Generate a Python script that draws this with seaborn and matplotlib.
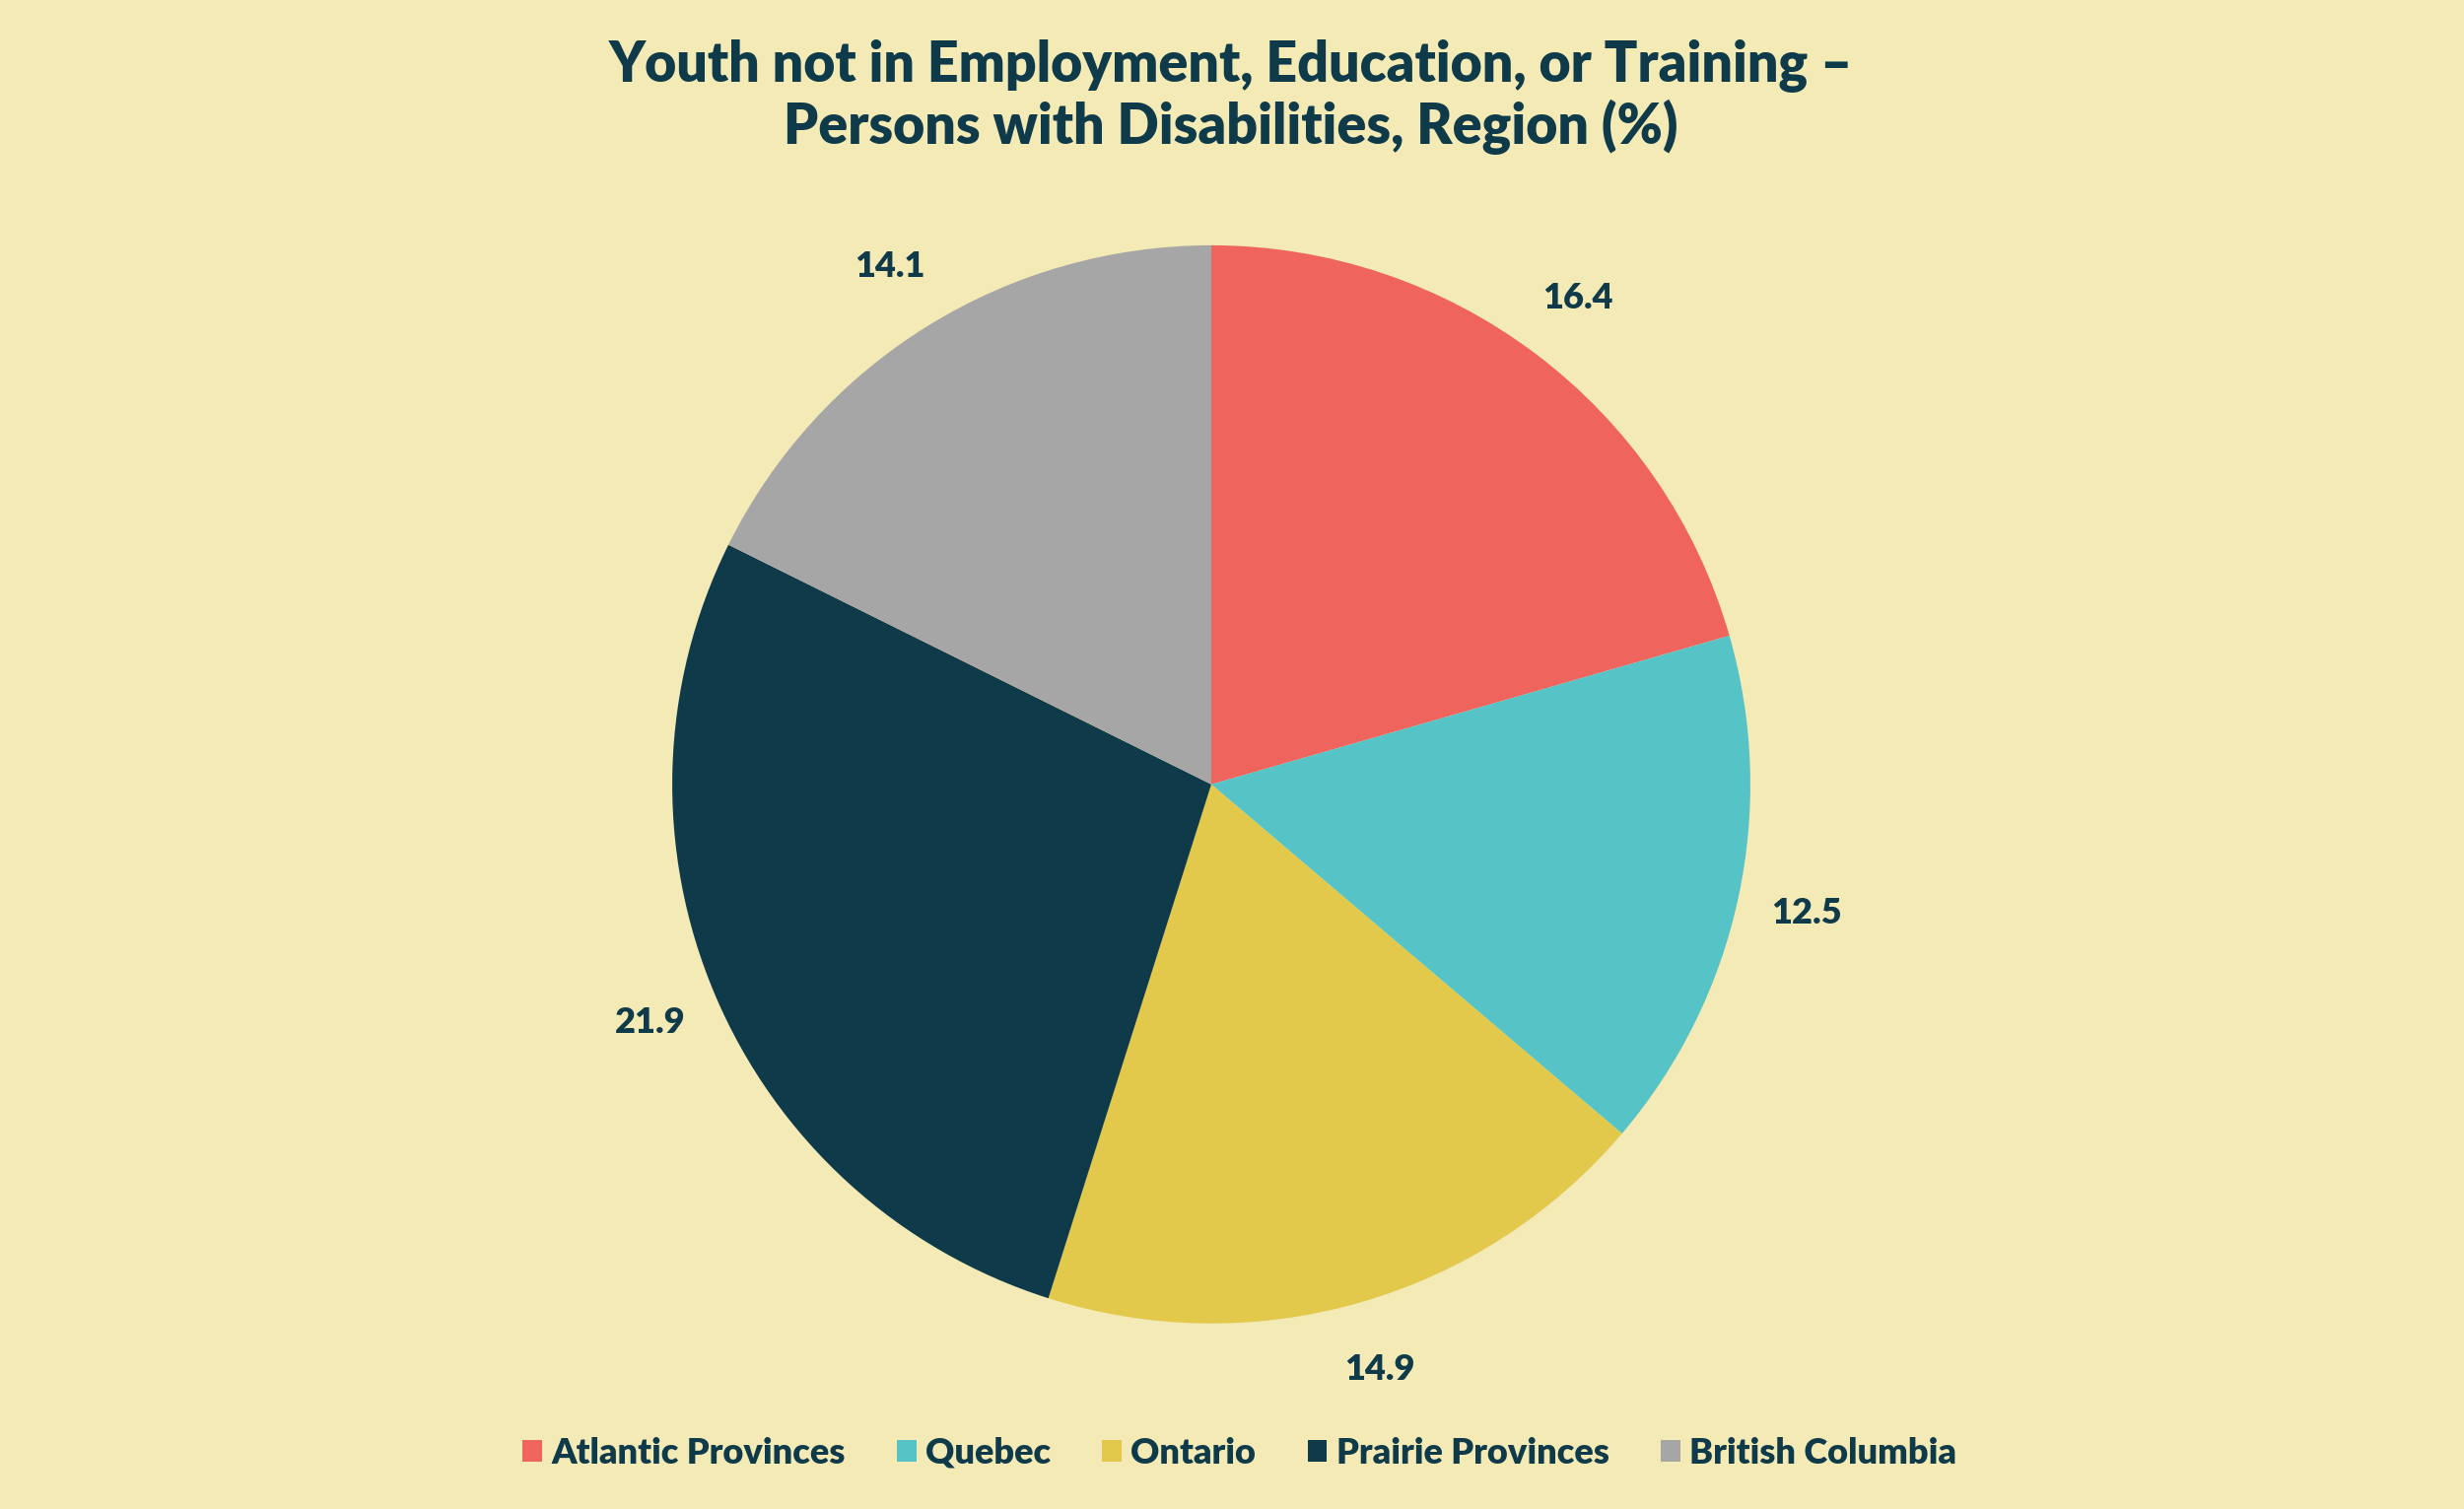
import matplotlib
matplotlib.use("Agg")
import matplotlib.pyplot as plt
import seaborn as sns
from matplotlib.patches import Patch

regions = ["Atlantic Provinces", "Quebec", "Ontario", "Prairie Provinces", "British Columbia"]
values = [16.4, 12.5, 14.9, 21.9, 14.1]
colors = ["#F0645E", "#56C3C6", "#E2C94C", "#0E3A4A", "#A6A6A6"]
title = "Youth not in Employment, Education, or Training –\nPersons with Disabilities, Region (%)"

bg = "#F4EAB6"
txt = "#0E3A4A"

sns.set_theme(style="white")
plt.rcParams['font.family'] = ['Lato', 'DejaVu Sans']

fig = plt.figure(figsize=(25, 15.31), dpi=100, facecolor=bg)
ax = fig.add_axes([0.2072, 0.0157, 0.5688, 0.929])
ax.set_facecolor(bg)

total = sum(values)
wedges, texts, autotexts = ax.pie(
    values, colors=colors, startangle=90, counterclock=False,
    autopct=lambda p: f"{p * total / 100:.1f}", pctdistance=1.13,
    wedgeprops=dict(linewidth=0),
    textprops=dict(color=txt, fontsize=26, fontweight="heavy"))
ax.set_xlim(-1.3, 1.3)
ax.set_ylim(-1.3, 1.3)
ax.set_aspect("equal")
ax.axis("off")

fig.text(0.4995, 0.9355, title, ha="center", va="center", fontsize=40,
         fontweight="heavy", color=txt, linespacing=1.15)

handles = [Patch(facecolor=c, edgecolor="none", label=r) for c, r in zip(colors, regions)]
fig.legend(handles=handles, loc="center", bbox_to_anchor=(0.503, 0.037), ncol=5,
           frameon=False, prop=dict(weight="heavy", size=26),
           handlelength=0.55, handleheight=0.55, handletextpad=0.25, columnspacing=1.45,
           labelcolor=txt)

fig.savefig("out.png", dpi=100, facecolor=bg)
